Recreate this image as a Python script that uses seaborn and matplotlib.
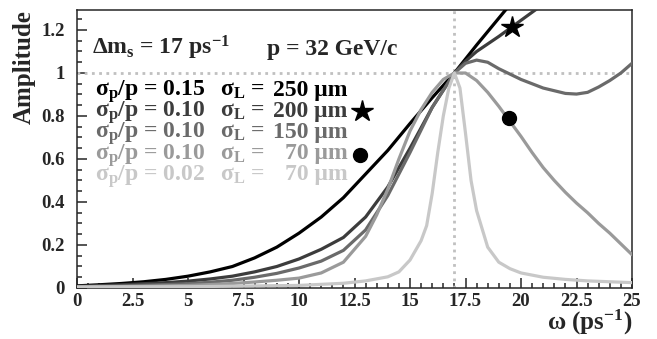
import numpy as np
import pandas as pd
import matplotlib
matplotlib.use("Agg")
import matplotlib.pyplot as plt
from matplotlib.ticker import MultipleLocator, FixedLocator
import seaborn as sns

# Amplitude spectra (omega in ps^-1)
omega_a = [0, 1, 2, 3, 4, 5, 6, 7, 8, 9, 10, 11, 12, 13, 14, 15, 16, 17, 18, 19, 20]
amp_a = [0.010, 0.015, 0.021, 0.029, 0.040, 0.055, 0.075, 0.10, 0.14, 0.19, 0.255,
         0.33, 0.42, 0.53, 0.64, 0.765, 0.885, 1.0, 1.13, 1.255, 1.38]

omega_b = [0, 2, 4, 5, 6, 7, 8, 9, 10, 11, 12, 13, 14, 15, 16, 17, 17.5, 18, 19, 20, 21]
amp_b = [0.008, 0.015, 0.025, 0.032, 0.042, 0.055, 0.075, 0.10, 0.135, 0.18, 0.235,
         0.33, 0.47, 0.65, 0.84, 1.0, 1.055, 1.10, 1.17, 1.245, 1.32]

omega_c = [0, 2, 4, 5, 6, 7, 8, 9, 10, 11, 12, 13, 14, 15, 16, 17, 17.5, 18, 18.5,
           19, 19.5, 20, 21, 22, 22.5, 23, 23.5, 24, 24.5, 25]
amp_c = [0.005, 0.010, 0.016, 0.020, 0.027, 0.036, 0.050, 0.068, 0.093, 0.125, 0.175,
         0.27, 0.43, 0.63, 0.84, 1.0, 1.045, 1.06, 1.05, 1.02, 0.995, 0.97, 0.93,
         0.905, 0.902, 0.91, 0.935, 0.965, 1.0, 1.045]

omega_d = [0, 2, 4, 5, 6, 7, 8, 9, 10, 11, 12, 13, 13.5, 14, 14.5, 15, 15.5, 16, 16.5,
           17, 17.5, 18, 18.5, 19, 19.5, 20, 20.5, 21, 21.5, 22, 22.5, 23, 23.5, 24,
           24.5, 25]
amp_d = [0.003, 0.006, 0.010, 0.012, 0.016, 0.021, 0.028, 0.036, 0.046, 0.070, 0.12,
         0.24, 0.34, 0.46, 0.60, 0.73, 0.83, 0.91, 0.97, 1.0, 1.0, 0.965, 0.91, 0.845,
         0.775, 0.705, 0.63, 0.56, 0.50, 0.445, 0.395, 0.35, 0.30, 0.255, 0.205, 0.155]

omega_e = [0, 5, 10, 12, 13, 14, 14.5, 15, 15.5, 15.75, 16, 16.25, 16.5, 16.75, 17,
           17.25, 17.5, 17.75, 18, 18.5, 19, 19.5, 20, 21, 22, 23, 25]
amp_e = [0.005, 0.006, 0.012, 0.022, 0.033, 0.052, 0.075, 0.13, 0.22, 0.29, 0.44,
         0.63, 0.80, 0.93, 1.0, 0.93, 0.72, 0.50, 0.36, 0.19, 0.12, 0.09, 0.07, 0.05,
         0.04, 0.033, 0.025]

sigma_p = ["0.15", "0.10", "0.10", "0.10", "0.02"]
sigma_l = ["250", "200", "150", "70", "70"]
colors = ["#000000", "#3c3c3c", "#6a6a6a", "#9a9a9a", "#c8c8c8"]

x_ticks = [0, 2.5, 5, 7.5, 10, 12.5, 15, 17.5, 20, 22.5, 25]
x_labels = ["0", "2.5", "5", "7.5", "10", "12.5", "15", "17.5", "20", "22.5", "25"]
y_ticks = [0, 0.2, 0.4, 0.6, 0.8, 1.0, 1.2]
y_labels = ["0", "0.2", "0.4", "0.6", "0.8", "1", "1.2"]

# marker positions (on curve, next to legend entry)
star_omega = [19.6, 12.82]
star_amp = [1.215, 0.823]
dot_omega = [19.45, 12.75]
dot_amp = [0.792, 0.619]

sns.set_style("ticks")
plt.rcParams["font.family"] = ["Liberation Serif", "DejaVu Serif"]
plt.rcParams["font.weight"] = "bold"
plt.rcParams["mathtext.fontset"] = "custom"
plt.rcParams["mathtext.rm"] = "Liberation Serif:bold"
plt.rcParams["mathtext.it"] = "Liberation Serif:bold"
plt.rcParams["mathtext.bf"] = "Liberation Serif:bold"

curves = [(omega_a, amp_a), (omega_b, amp_b), (omega_c, amp_c), (omega_d, amp_d), (omega_e, amp_e)]
frames = []
for i, (om, am) in enumerate(curves):
    frames.append(pd.DataFrame({"omega": om, "amp": am, "setting": f"c{i}"}))
df = pd.concat(frames, ignore_index=True)

fig = plt.figure(figsize=(6.57, 3.39), dpi=100)
ax = fig.add_axes([77 / 657, 1 - 288 / 339, 555 / 657, 278 / 339])

ax.axhline(1.0, color="#c0c0c0", lw=2, ls=(0, (1, 1.6)), zorder=1)
ax.axvline(17.0, color="#c0c0c0", lw=2, ls=(0, (1, 1.6)), zorder=1)

sns.lineplot(data=df, x="omega", y="amp", hue="setting", palette=colors,
             sort=False, estimator=None, legend=False, lw=2.3, ax=ax, zorder=3)

ax.plot(star_omega, star_amp, ls="none", marker="*", ms=16, color="black", zorder=5)
ax.plot(dot_omega, dot_amp, ls="none", marker="o", ms=10, color="black", zorder=5)

# header text
ax.text(0.67, 1.084, "Δm$_s$ = 17 ps$^{-1}$", fontsize=17, fontweight="bold")
ax.text(8.55, 1.084, "p = 32 GeV/c", fontsize=17, fontweight="bold")

# legend rows
row_y = [0.893, 0.795, 0.697, 0.599, 0.501]
for sp, sl, c, y in zip(sigma_p, sigma_l, colors, row_y):
    ax.text(0.8, y, f"σ$_p$/p = {sp}", color=c, fontsize=17, fontweight="bold")
    ax.text(6.44, y, "σ$_L$ =", color=c, fontsize=17, fontweight="bold")
    ax.text(12.2, y, f"{sl} μm", color=c, fontsize=17, fontweight="bold", ha="right")

ax.set_xlim(0, 25)
ax.set_ylim(0, 1.293)
ax.xaxis.set_major_locator(FixedLocator(x_ticks))
ax.xaxis.set_minor_locator(MultipleLocator(0.5))
ax.yaxis.set_major_locator(FixedLocator(y_ticks))
ax.yaxis.set_minor_locator(MultipleLocator(0.05))
ax.set_xticklabels(x_labels)
ax.set_yticklabels(y_labels)
ax.tick_params(which="both", direction="in", top=False, right=False, width=1.1)
ax.tick_params(which="major", length=7, labelsize=13.5)
ax.tick_params(which="minor", length=3.5)
ax.tick_params(axis="x", pad=3.5)
ax.tick_params(axis="y", pad=9)
for lab in ax.get_xticklabels() + ax.get_yticklabels():
    lab.set_fontweight("bold")
for s in ax.spines.values():
    s.set_linewidth(1.1)

ax.set_xlabel("ω (ps$^{-1}$)", fontsize=18, fontweight="bold", loc="right")
ax.xaxis.set_label_coords(1.0, -0.072)
ax.set_ylabel("Amplitude", fontsize=18, fontweight="bold", loc="top")
ax.yaxis.set_label_coords(-0.074, 1.0)

fig.savefig("out.png", dpi=100)
